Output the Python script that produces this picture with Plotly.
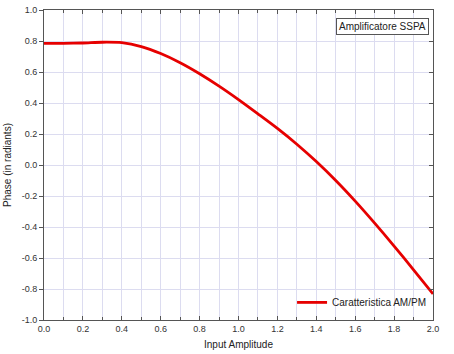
import plotly.graph_objects as go

amplitude = [0.0, 0.1, 0.2, 0.3, 0.4, 0.5, 0.6, 0.7, 0.8, 0.9, 1.0,
             1.1, 1.2, 1.3, 1.4, 1.5, 1.6, 1.7, 1.8, 1.9, 2.0]
phase = [0.785, 0.785, 0.787, 0.792, 0.789, 0.764, 0.719, 0.660, 0.589, 0.509, 0.422,
         0.330, 0.236, 0.134, 0.022, -0.100, -0.233, -0.375, -0.523, -0.676, -0.832]

x_tickvals = [0.0, 0.2, 0.4, 0.6, 0.8, 1.0, 1.2, 1.4, 1.6, 1.8, 2.0]
x_ticktext = ["0.0", "0.2", "0.4", "0.6", "0.8", "1.0", "1.2", "1.4", "1.6", "1.8", "2.0"]
y_tickvals = [-1.0, -0.8, -0.6, -0.4, -0.2, 0.0, 0.2, 0.4, 0.6, 0.8, 1.0]
y_ticktext = ["-1.0", "-0.8", "-0.6", "-0.4", "-0.2", "0.0", "0.2", "0.4", "0.6", "0.8", "1.0"]

series_name = "Caratteristica AM/PM"
box_label = "Amplificatore SSPA"
x_title = "Input Amplitude"
y_title = "Phase (in radiants)"

FONT = "Liberation Sans, Arial, sans-serif"
AXIS_COLOR = "#555555"
GRID_COLOR = "#dcdcf0"
TICK_FONT = dict(family=FONT, size=9, color="#333333")

fig = go.Figure()
fig.add_trace(go.Scatter(
    x=amplitude, y=phase, mode="lines", name=series_name,
    line=dict(color="#e60000", width=2.8, shape="spline", smoothing=0.8),
))
# invisible twin on the right axis so its inside ticks get drawn
fig.add_trace(go.Scatter(
    x=amplitude, y=phase, mode="lines", yaxis="y2", showlegend=False,
    hoverinfo="skip", opacity=0, line=dict(width=0),
))

fig.update_layout(
    width=454, height=354,
    margin=dict(l=44, r=21, t=10, b=34, autoexpand=False),
    paper_bgcolor="white", plot_bgcolor="white",
    font=dict(family=FONT, size=10, color="#222222"),
    xaxis=dict(
        range=[0, 2], tickvals=x_tickvals, ticktext=x_ticktext,
        ticks="inside", ticklen=4, tickcolor=AXIS_COLOR, tickwidth=1,
        showline=True, linecolor=AXIS_COLOR, linewidth=1, mirror="ticks",
        showgrid=True, gridcolor=GRID_COLOR, gridwidth=1,
        minor=dict(dtick=0.1, ticks="inside", ticklen=3, tickcolor=AXIS_COLOR,
                   showgrid=True, gridcolor=GRID_COLOR, gridwidth=1),
        tickfont=TICK_FONT, zeroline=False,
        title=dict(text=x_title, font=dict(family=FONT, size=10, color="#222222"), standoff=8),
    ),
    yaxis=dict(
        range=[-1, 1], tickvals=y_tickvals, ticktext=y_ticktext,
        ticks="outside", ticklen=4, tickcolor=AXIS_COLOR,
        showline=True, linecolor=AXIS_COLOR, linewidth=1, mirror=True,
        showgrid=True, gridcolor=GRID_COLOR, gridwidth=1,
        tickfont=TICK_FONT, zeroline=False,
        title=dict(text=y_title, font=dict(family=FONT, size=10, color="#222222"), standoff=8),
    ),
    yaxis2=dict(
        range=[-1, 1], tickvals=y_tickvals, overlaying="y", side="right",
        ticks="inside", ticklen=4, tickcolor=AXIS_COLOR, showticklabels=False,
        showgrid=False, zeroline=False, showline=False,
    ),
    legend=dict(
        x=0.995, y=0.01, xanchor="right", yanchor="bottom",
        bgcolor="rgba(255,255,255,0)", borderwidth=0,
        font=dict(family=FONT, size=10, color="#222222"),
        itemwidth=30,
    ),
    showlegend=True,
)

fig.add_annotation(
    text=box_label, xref="paper", yref="paper", x=0.99, y=0.975,
    xanchor="right", yanchor="top", showarrow=False,
    font=dict(family=FONT, size=10, color="#222222"),
    bordercolor="#555555", borderwidth=1, borderpad=2, bgcolor="white",
)

fig.write_html("out.html")
